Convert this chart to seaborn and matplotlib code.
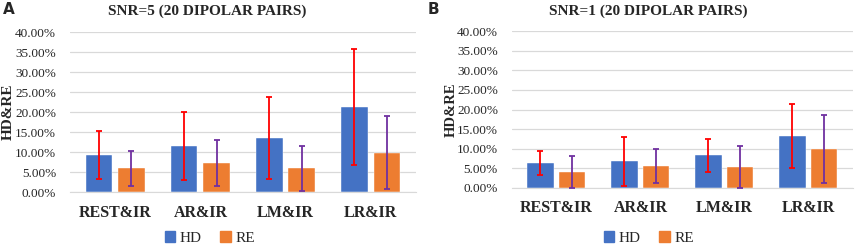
import matplotlib
matplotlib.use("Agg")
import matplotlib.pyplot as plt
import pandas as pd
import seaborn as sb
import numpy as np

categories = ['REST&IR', 'AR&IR', 'LM&IR', 'LR&IR']
series = ['HD', 'RE']

# SNR=5 values (%)
snr5_hd = [9.3, 11.6, 13.5, 21.3]
snr5_re = [5.9, 7.3, 5.9, 9.8]
snr5_hd_err = [6.0, 8.5, 10.3, 14.5]
snr5_re_err = [4.4, 5.8, 5.7, 9.1]

# SNR=1 values (%)
snr1_hd = [6.4, 6.8, 8.3, 13.2]
snr1_re = [4.1, 5.5, 5.4, 10.0]
snr1_hd_err = [3.0, 6.3, 4.2, 8.2]
snr1_re_err = [4.1, 4.35, 5.3, 8.6]

bar_colors = ['#4472C4', '#ED7D31']
err_colors = ['#FF0000', '#7030A0']

sb.set_style('white')
plt.rcParams['font.family'] = ['Liberation Serif', 'DejaVu Serif']

fig = plt.figure(figsize=[8.56, 2.45], dpi=100)
ax_a = fig.add_axes([0.0818, 0.2163, 0.404, 0.653])
ax_b = fig.add_axes([0.598, 0.2327, 0.3985, 0.640])


def draw_panel(ax, hd, re, hd_err, re_err, title, letter, title_x, legend_x, fig_left,
               ylab_x, ylab_size):
    df = pd.DataFrame({
        'cat': categories * 2,
        'series': ['HD'] * 4 + ['RE'] * 4,
        'value': hd + re,
    })
    sb.barplot(data=df, x='cat', y='value', hue='series', order=categories,
               hue_order=series, palette=bar_colors, width=0.76, gap=0.18,
               errorbar=None, ax=ax, legend=False, saturation=1,
               edgecolor='white', linewidth=0.3, zorder=2)
    for cont, vals, errs, c in zip(ax.containers, [hd, re], [hd_err, re_err], err_colors):
        xs = [p.get_x() + p.get_width() / 2 for p in cont.patches]
        ax.errorbar(xs, vals, yerr=errs, fmt='none', ecolor=c, elinewidth=1.3,
                    capsize=2.5, capthick=1.3, zorder=3)
    ax.set_ylim(0, 40)
    ax.set_yticks(np.arange(0, 41, 5))
    ax.set_yticklabels(['%.2f%%' % v for v in np.arange(0, 41, 5)], fontsize=9.5)
    ax.set_xticks(range(4))
    ax.set_xticklabels(categories, fontsize=11.5, fontweight='bold')
    ax.tick_params(axis='x', length=0, pad=9)
    ax.tick_params(axis='y', length=0, pad=10)
    ax.yaxis.grid(True, color='#D9D9D9', linewidth=0.9, zorder=0)
    ax.set_axisbelow(True)
    for s in ['top', 'right', 'left']:
        ax.spines[s].set_visible(False)
    ax.spines['bottom'].set_color('#D9D9D9')
    ax.set_xlabel('')
    ax.set_ylabel('')
    pos = ax.get_position()
    fig.text(ylab_x, (pos.y0 + pos.y1) / 2, 'HD&RE', rotation=90, ha='center',
             va='center', fontsize=ylab_size, fontweight='bold')
    fig.text(title_x, 1 - 11 / 245, title, ha='center', va='center',
             fontsize=11, fontweight='bold')
    fig.text(fig_left, 1 - 10 / 245, letter, ha='left', va='center',
             fontsize=11, fontweight='bold', family='DejaVu Sans')
    handles = [plt.Rectangle((0, 0), 1, 1, color=c) for c in bar_colors]
    fig.legend(handles, series, loc='center', bbox_to_anchor=(legend_x, 1 - 238 / 245),
               ncol=2, frameon=False, fontsize=11, handlelength=0.7,
               handleheight=0.7, handletextpad=0.3, columnspacing=1.2)


draw_panel(ax_a, snr5_hd, snr5_re, snr5_hd_err, snr5_re_err,
           'SNR=5 (20 DIPOLAR PAIRS)', 'A', 207 / 856, 210 / 856, 3 / 856, 8.5 / 856, 11)
draw_panel(ax_b, snr1_hd, snr1_re, snr1_hd_err, snr1_re_err,
           'SNR=1 (20 DIPOLAR PAIRS)', 'B', 648 / 856, 649 / 856, 428 / 856, 451 / 856, 10.5)

fig.savefig('out.png', dpi=100)
